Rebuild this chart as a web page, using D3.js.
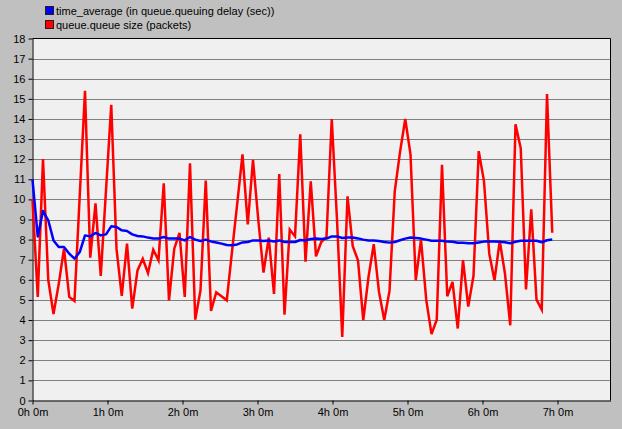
<!DOCTYPE html>
<html>
<head>
<meta charset="utf-8">
<script src="https://cdn.jsdelivr.net/npm/d3@7"></script>
<style>
  html, body { margin: 0; padding: 0; background: #c0c0c0; }
  svg { display: block; font-family: "Liberation Sans", Arial, sans-serif; }
</style>
</head>
<body>
<svg id="chart" width="622" height="429"></svg>
<script>
// series names (legend)
const seriesNames = ["time_average (in queue.queuing delay (sec))", "queue.queue size (packets)"];
const seriesColors = ["#0000ff", "#ff0000"];

// one sample every 4.2 minutes (0.07 h)
const sampleStepHours = 0.07;

// queue.queue size (packets)
const queueSize = [
  10, 5.15, 12, 6, 4.3, 5.8, 7.55, 5.15, 4.95, 10.2,
  15.4, 7.1, 9.8, 6.2, 10.45, 14.7, 7.55, 5.2, 7.8, 4.57,
  6.47, 7.05, 6.34, 7.5, 6.97, 10.8, 4.98, 7.55, 8.33, 5.15,
  11.8, 4.02, 5.48, 10.94, 4.45, 5.38, 5.18, 4.98, 7.4, 9.8,
  12.24, 8.76, 11.97, 9, 6.36, 8.1, 5.3, 11.26, 4.27, 8.5,
  8.16, 13.24, 6.9, 10.9, 7.17, 7.88, 8.13, 14.0, 9, 3.16,
  10.15, 7.67, 6.97, 3.99, 6.14, 7.77, 5.4, 4.0, 5.45, 10.4,
  12.35, 14.0, 12.24, 5.98, 8.0, 5.0, 3.3, 4.02, 11.72, 5.18,
  5.9, 3.58, 6.98, 4.67, 6.2, 12.4, 10.9, 7.3, 5.98, 7.94,
  6.3, 3.74, 13.73, 12.54, 5.52, 9.5, 5.02, 4.52, 15.24, 8.34
];

// time_average (in queue.queuing delay (sec))
const timeAverage = [
  10.98, 8.16, 9.42, 8.96, 7.96, 7.63, 7.63, 7.3, 7.05, 7.38,
  8.21, 8.16, 8.33, 8.21, 8.26, 8.66, 8.63, 8.46, 8.43, 8.26,
  8.18, 8.16, 8.1, 8.06, 8.05, 8.13, 8.05, 8.05, 8.05, 7.96,
  8.13, 8.0, 7.93, 8.0, 7.91, 7.86, 7.8, 7.73, 7.72, 7.76,
  7.86, 7.88, 7.96, 7.96, 7.93, 7.96, 7.91, 7.96, 7.88, 7.88,
  7.88, 7.98, 7.96, 8.03, 8.05, 8.03, 8.05, 8.16, 8.16, 8.08,
  8.11, 8.11, 8.06, 8.0, 7.96, 7.96, 7.93, 7.88, 7.85, 7.88,
  7.97, 8.05, 8.1, 8.08, 8.05, 8.0, 7.94, 7.94, 7.94, 7.9,
  7.89, 7.84, 7.84, 7.82, 7.82, 7.86, 7.9, 7.9, 7.9, 7.89,
  7.87, 7.82, 7.89, 7.94, 7.94, 7.94, 7.94, 7.87, 7.97, 8.0
];

// axis ticks
const yTicks = d3.range(0, 19);
const xTickHours = [0, 1, 2, 3, 4, 5, 6, 7];
const xTickLabels = ["0h 0m", "1h 0m", "2h 0m", "3h 0m", "4h 0m", "5h 0m", "6h 0m", "7h 0m"];

const svg = d3.select("#chart");

//Plot area
const plotLeft = 32.5, plotRight = 610.5, plotTop = 38.5, plotBottom = 400.5;

const x = d3.scaleLinear().domain([0, 578 / 75]).range([plotLeft, plotRight]);
const y = d3.scaleLinear().domain([0, 18]).range([plotBottom, plotTop]);

svg.append("rect")
  .attr("x", plotLeft).attr("y", plotTop)
  .attr("width", plotRight - plotLeft).attr("height", plotBottom - plotTop)
  .attr("fill", "#f0f0f0");

//Gridlines
svg.append("g")
  .selectAll("line")
  .data(yTicks.filter(d => d > 0 && d < 18))
  .enter()
  .append("line")
  .attr("x1", plotLeft).attr("x2", plotRight)
  .attr("y1", d => Math.round(y(d)) + 0.5)
  .attr("y2", d => Math.round(y(d)) + 0.5)
  .attr("stroke", "#808080")
  .attr("stroke-width", 1);

//Border (top and right)
svg.append("path")
  .attr("d", `M${plotLeft},${plotTop}H${plotRight}V${plotBottom}`)
  .attr("fill", "none")
  .attr("stroke", "#000");

//Axes
const yAxis = svg.append("g")
  .attr("transform", `translate(${plotLeft},0)`)
  .call(d3.axisLeft(y).tickValues(yTicks).tickSize(4).tickPadding(3).tickSizeOuter(0));

const xAxis = svg.append("g")
  .attr("transform", `translate(0,${plotBottom})`)
  .call(d3.axisBottom(x).tickValues(xTickHours).tickSize(4).tickPadding(4).tickSizeOuter(0)
    .tickFormat((d, i) => xTickLabels[i]));

[yAxis, xAxis].forEach(g => {
  g.attr("font-family", "Liberation Sans, Arial, sans-serif").attr("font-size", 11);
  g.selectAll("text").attr("fill", "#000");
  g.selectAll("line, path").attr("stroke", "#000");
});

//Lines
const line = d3.line()
  .x((d, i) => x(i * sampleStepHours))
  .y(d => y(d));

svg.append("path")
  .datum(queueSize)
  .attr("d", line)
  .attr("fill", "none")
  .attr("stroke", seriesColors[1])
  .attr("stroke-width", 2.5)
  .attr("stroke-linejoin", "miter");

svg.append("path")
  .datum(timeAverage)
  .attr("d", line)
  .attr("fill", "none")
  .attr("stroke", seriesColors[0])
  .attr("stroke-width", 2.5)
  .attr("stroke-linejoin", "round");

//Legend
const legend = svg.append("g").attr("transform", "translate(45,6)");
seriesNames.forEach((name, i) => {
  legend.append("rect")
    .attr("x", 0.5).attr("y", i * 14 + 0.5)
    .attr("width", 8).attr("height", 8)
    .attr("fill", seriesColors[i])
    .attr("stroke", "#202020");
  legend.append("text")
    .attr("x", 11).attr("y", i * 14 + 8.5)
    .attr("font-size", 11)
    .attr("fill", "#000")
    .text(name);
});
</script>
</body>
</html>
